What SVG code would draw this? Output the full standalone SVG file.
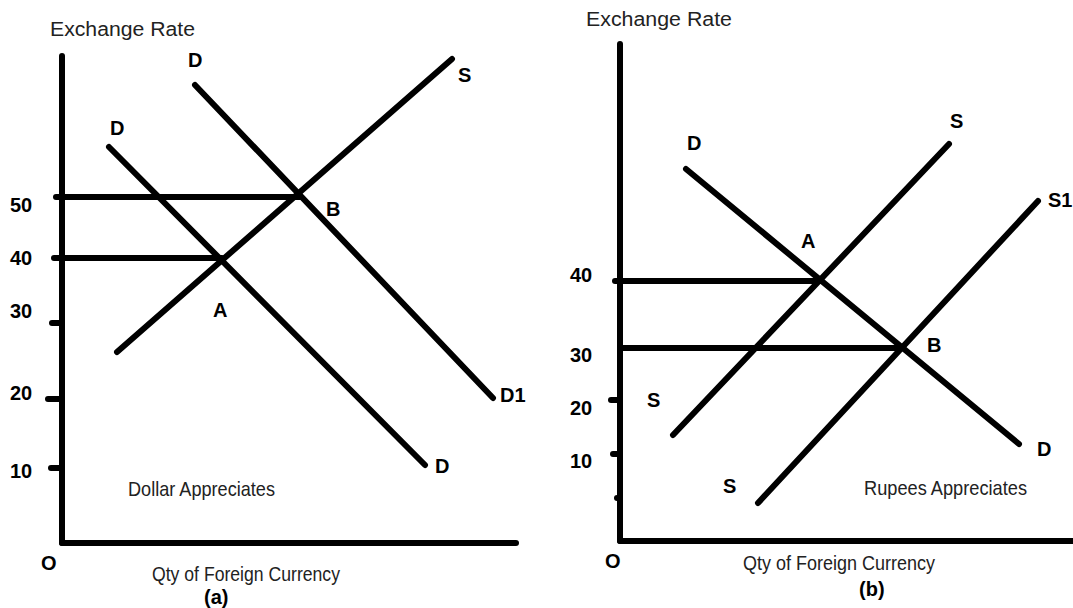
<svg xmlns="http://www.w3.org/2000/svg" width="1073" height="608" viewBox="0 0 1073 608">
<style>
.ln{stroke:#000;stroke-width:6;stroke-linecap:round;fill:none}
.b{font-family:"Liberation Sans",Arial,sans-serif;font-weight:bold;font-size:20px;fill:#000}
.n{font-family:"Liberation Sans",Arial,sans-serif;font-size:20px;fill:#222}
.c{font-family:"Liberation Sans",Arial,sans-serif;font-size:21px;fill:#222}
</style>
<rect width="1073" height="608" fill="#fff"/>
<g id="panel-a">
  <g id="axes-a">
    <line class="ln" x1="62" y1="56" x2="62" y2="543"/>
    <line class="ln" x1="62" y1="543" x2="516" y2="543"/>
    <line class="ln" x1="52" y1="323" x2="62" y2="323"/>
    <line class="ln" x1="48" y1="399" x2="62" y2="399"/>
    <line class="ln" x1="51" y1="468" x2="62" y2="468"/>
  </g>
  <g id="connectors-a">
    <line class="ln" x1="56" y1="197" x2="300" y2="197"/>
    <line class="ln" x1="54" y1="258" x2="222" y2="258"/>
    <line class="ln" x1="117" y1="352" x2="452" y2="59"/>
    <line class="ln" x1="195" y1="85" x2="493" y2="398"/>
    <line class="ln" x1="109" y1="147" x2="425" y2="465"/>
  </g>
  <g id="labels-a">
    <text class="n" x="50" y="36" textLength="145" lengthAdjust="spacingAndGlyphs">Exchange Rate</text>
    <text class="b" x="10" y="212">50</text>
    <text class="b" x="10" y="265">40</text>
    <text class="b" x="10" y="318">30</text>
    <text class="b" x="10" y="400">20</text>
    <text class="b" x="10" y="478">10</text>
    <text class="b" x="188" y="67">D</text>
    <text class="b" x="110" y="135">D</text>
    <text class="b" x="458" y="82">S</text>
    <text class="b" x="326" y="216">B</text>
    <text class="b" x="213" y="317">A</text>
    <text class="b" x="500" y="402">D1</text>
    <text class="b" x="435" y="473">D</text>
    <text class="c" x="128" y="496" textLength="147" lengthAdjust="spacingAndGlyphs">Dollar Appreciates</text>
    <text class="b" x="41" y="570">O</text>
    <text class="c" x="152" y="581" textLength="188" lengthAdjust="spacingAndGlyphs">Qty of Foreign Currency</text>
    <text class="b" x="204" y="604">(a)</text>
  </g>
</g>
<g id="panel-b">
  <g id="axes-b">
    <line class="ln" x1="620" y1="44" x2="620" y2="541"/>
    <line class="ln" x1="620" y1="541" x2="1078" y2="541"/>
    <line class="ln" x1="611" y1="400" x2="620" y2="400"/>
    <line class="ln" x1="613" y1="454" x2="620" y2="454"/>
    <line class="ln" x1="617" y1="498" x2="620" y2="498"/>
  </g>
  <g id="connectors-b">
    <line class="ln" x1="615" y1="281" x2="820" y2="281"/>
    <line class="ln" x1="620" y1="348" x2="903" y2="348"/>
    <line class="ln" x1="686" y1="169" x2="1019" y2="444"/>
    <line class="ln" x1="673" y1="435" x2="949" y2="144"/>
    <line class="ln" x1="758" y1="503" x2="1038" y2="201"/>
  </g>
  <g id="labels-b">
    <text class="n" x="586" y="26" textLength="146" lengthAdjust="spacingAndGlyphs">Exchange Rate</text>
    <text class="b" x="570" y="282">40</text>
    <text class="b" x="570" y="362">30</text>
    <text class="b" x="570" y="415">20</text>
    <text class="b" x="570" y="468">10</text>
    <text class="b" x="687" y="150">D</text>
    <text class="b" x="950" y="128">S</text>
    <text class="b" x="1048" y="207">S1</text>
    <text class="b" x="801" y="248">A</text>
    <text class="b" x="927" y="352">B</text>
    <text class="b" x="647" y="407">S</text>
    <text class="b" x="723" y="493">S</text>
    <text class="b" x="1037" y="456">D</text>
    <text class="c" x="864" y="495" textLength="163" lengthAdjust="spacingAndGlyphs">Rupees Appreciates</text>
    <text class="b" x="605" y="568">O</text>
    <text class="c" x="743" y="570" textLength="192" lengthAdjust="spacingAndGlyphs">Qty of Foreign Currency</text>
    <text class="b" x="859" y="596">(b)</text>
  </g>
</g>
</svg>
